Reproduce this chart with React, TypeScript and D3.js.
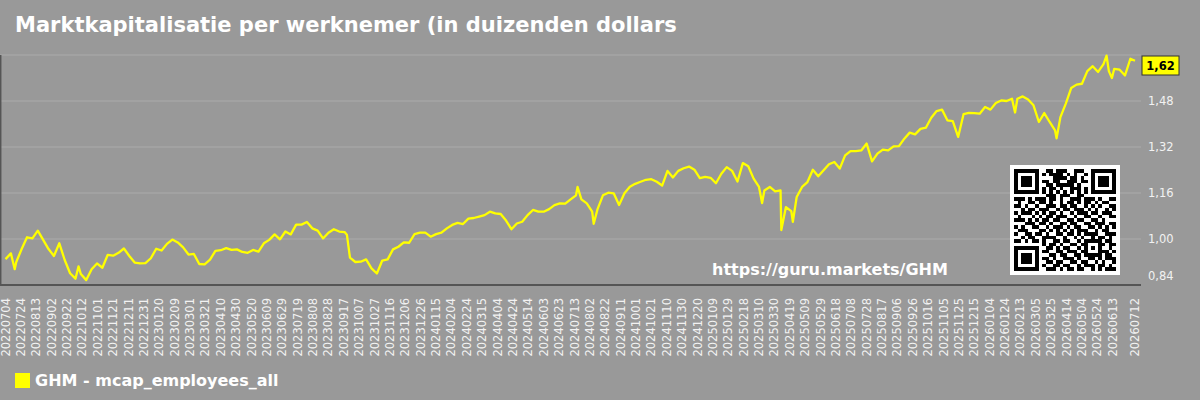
import React from "react";
import * as d3 from "d3";

const TITLE = "Marktkapitalisatie per werknemer (in duizenden dollars";
const SERIES_NAME = "GHM - mcap_employees_all";
const URL_TEXT = "https://guru.markets/GHM";
const START_DATE = "20220704";
const END_DATE = "20260712";
const STEP_DAYS = 7;

// weekly readings (every 7 days from START_DATE)
const weeklyValues = [
  0.930, 0.950, 0.920, 0.965, 1.006, 1.002, 1.029, 0.997, 0.965, 0.941,
  0.985, 0.927, 0.881, 0.862, 0.878, 0.857, 0.895, 0.915, 0.900, 0.945,
  0.942, 0.952, 0.967, 0.941, 0.918, 0.915, 0.916, 0.933, 0.966, 0.960,
  0.983, 0.998, 0.988, 0.971, 0.946, 0.948, 0.913, 0.912, 0.928, 0.959,
  0.961, 0.968, 0.962, 0.964, 0.955, 0.952, 0.962, 0.956, 0.985, 0.997,
  1.016, 0.999, 1.026, 1.016, 1.050, 1.050, 1.059, 1.037, 1.029, 1.002,
  1.022, 1.034, 1.026, 1.024, 0.935, 0.920, 0.921, 0.929, 0.898, 0.880,
  0.925, 0.929, 0.964, 0.973, 0.988, 0.987, 1.017, 1.022, 1.022, 1.008,
  1.017, 1.022, 1.037, 1.049, 1.056, 1.052, 1.071, 1.073, 1.078, 1.083,
  1.095, 1.089, 1.087, 1.064, 1.034, 1.054, 1.060, 1.083, 1.101, 1.095,
  1.095, 1.104, 1.118, 1.124, 1.123, 1.138, 1.152, 1.138, 1.124, 1.095,
  1.104, 1.152, 1.161, 1.159, 1.118, 1.159, 1.182, 1.192, 1.199, 1.206,
  1.208, 1.199, 1.186, 1.237, 1.214, 1.237, 1.246, 1.252, 1.241, 1.212,
  1.216, 1.213, 1.194, 1.227, 1.250, 1.237, 1.200, 1.264, 1.253, 1.210,
  1.181, 1.169, 1.181, 1.166, 1.169, 1.111, 1.097, 1.146, 1.181, 1.198,
  1.241, 1.218, 1.239, 1.260, 1.268, 1.245, 1.291, 1.306, 1.306, 1.308,
  1.332, 1.270, 1.297, 1.311, 1.308, 1.322, 1.323, 1.349, 1.370, 1.364,
  1.383, 1.387, 1.422, 1.445, 1.450, 1.413, 1.410, 1.355, 1.434, 1.439,
  1.438, 1.436, 1.459, 1.450, 1.473, 1.482, 1.480, 1.488, 1.488, 1.496,
  1.485, 1.465, 1.407, 1.438, 1.407, 1.378, 1.424, 1.471, 1.525, 1.537,
  1.540, 1.584, 1.601, 1.581, 1.608, 1.584, 1.592, 1.589, 1.569, 1.627,
];

// extra readings at sharp spikes: [day offset from START_DATE, value]
const spikeDays = [12, 95, 444, 744, 765, 984, 1009, 1024, 1313, 1367, 1432, 1439];
const spikeValues = [0.895, 0.905, 1.015, 1.181, 1.053, 1.125, 1.031, 1.06, 1.44, 1.35, 1.638, 1.56];

const lastValue = 1.62;

const xTickLabels = [
  "20220704", "20220724", "20220813", "20220902", "20220922", "20221012", "20221101", "20221121", "20221211", "20221231",
  "20230120", "20230209", "20230301", "20230321", "20230410", "20230430", "20230520", "20230609", "20230629", "20230719",
  "20230808", "20230828", "20230917", "20231007", "20231027", "20231116", "20231206", "20231226",
  "20240115", "20240204", "20240224", "20240315", "20240404", "20240424", "20240514", "20240603", "20240623", "20240713",
  "20240802", "20240822", "20240911", "20241001", "20241021", "20241110", "20241130", "20241220",
  "20250109", "20250129", "20250218", "20250310", "20250330", "20250419", "20250509", "20250529", "20250618", "20250708",
  "20250728", "20250817", "20250906", "20250926", "20251016", "20251105", "20251125", "20251215",
  "20260104", "20260124", "20260213", "20260305", "20260325", "20260414", "20260504", "20260524", "20260613", "20260712",
];

const yGridTicks = [1.0, 1.16, 1.32, 1.48, 1.64];
const yLabelTicks = [0.84, 1.0, 1.16, 1.32, 1.48];
const Y_MIN = 0.84;
const Y_MAX = 1.64;

const QR_ROWS = [
  "1111111 0 0110111001110 0 1111111",
  "1000001 0 1011110101001 0 1000001",
  "1011101 0 0001111011010 0 1011101",
  "1011101 0 1101100111011 0 1011101",
  "1011101 0 0110111110100 0 1011101",
  "1000001 0 1011010011101 0 1000001",
  "1111111 0 1010101010101 0 1111111",
  "00000000 0111011100110 00000000",
  "111010111 011010011101 11010011",
  "010011 0 1101001011010110101100",
  "110100 1 0011101101100101010011",
  "001011 0 1110010110111010100101",
  "101110 1 0101101001011101101110",
  "010001 0 1011011100100110010011",
  "111010 1 0110110011011001101000",
  "000111 0 1101001101100110111011",
  "101001 1 0010111010110011010101",
  "011100 0 1101010101011100101100",
  "100110 1 1010011011010111100111",
  "001011 0 0111100100101001011010",
  "110101 1 0100110110010 11111 0110",
  "00000000 101101001101 10001 1011",
  "1111111 0 011010110010 10101 0010",
  "1000001 0 110011011101 10001 1101",
  "1011101 0 001101100110 11111 0110",
  "1011101 0 110100111010011010111",
  "1011101 0 011011001101100101001",
  "1000001 0 100110110010111011010",
  "1111111 0 011101011011001010111",
].map((r) => r.replace(/ /g, ""));

const FONT = "'DejaVu Sans', sans-serif";

export default function App() {
  const W = 1200;
  const H = 400;
  const plotLeft = 0;
  const plotRight = 1141;
  const plotTop = 55;
  const plotBottom = 285;

  const parse = d3.utcParse("%Y%m%d");
  const start = parse(START_DATE) as Date;
  const end = parse(END_DATE) as Date;

  const x = d3.scaleUtc().domain([start, end]).range([5.5, 1135]);
  const y = d3.scaleLinear().domain([Y_MIN, Y_MAX]).range([plotBottom, plotTop]);

  const pts: { d: Date; v: number }[] = [];
  weeklyValues.forEach((v, i) => pts.push({ d: d3.utcDay.offset(start, i * STEP_DAYS), v }));
  spikeDays.forEach((day, i) => pts.push({ d: d3.utcDay.offset(start, day), v: spikeValues[i] }));
  pts.push({ d: end, v: lastValue });
  pts.sort((a, b) => +a.d - +b.d);

  const line = d3
    .line<{ d: Date; v: number }>()
    .x((p) => x(p.d))
    .y((p) => y(p.v));

  const fmt = (v: number) => d3.format(".2f")(v).replace(".", ",");

  const boxCenter = Math.max(y(lastValue), 65.5);
  const mod = 3.5;
  const qrX = 1010;
  const qrY = 165;
  const qrOff = (110 - QR_ROWS.length * mod) / 2;

  return (
    <div style={{ position: "absolute", left: 0, top: 0 }}>
      <svg width={W} height={H} style={{ display: "block" }}>
        <rect x={0} y={0} width={W} height={H} fill="#999999" />
        <text x={15} y={32} fill="#ffffff" fontFamily={FONT} fontWeight="bold" fontSize={21}>
          {TITLE}
        </text>

        {yGridTicks.map((t) => (
          <line key={t} x1={plotLeft} x2={plotRight} y1={y(t)} y2={y(t)} stroke="#a6a6a6" strokeWidth={1.5} />
        ))}

        <path d={line(pts) || ""} fill="none" stroke="#ffff00" strokeWidth={2.3} strokeLinejoin="round" />

        <line x1={0.7} x2={0.7} y1={plotTop} y2={plotBottom} stroke="#555555" strokeWidth={1.5} />
        <line x1={plotLeft} x2={plotRight} y1={plotBottom} y2={plotBottom} stroke="#555555" strokeWidth={2} />

        {yLabelTicks.map((t) => (
          <text
            key={t}
            x={1148}
            y={t === Y_MIN ? y(t) - 9 : y(t)}
            dy="0.35em"
            fill="#f2f2f2"
            fontFamily={FONT}
            fontSize={11.5}
          >
            {fmt(t)}
          </text>
        ))}

        <rect x={1142} y={boxCenter - 9.5} width={37} height={19} fill="#ffff00" stroke="#333333" strokeWidth={1} />
        <text
          x={1160.5}
          y={boxCenter}
          dy="0.36em"
          textAnchor="middle"
          fill="#000000"
          fontFamily={FONT}
          fontWeight="bold"
          fontSize={11.5}
        >
          {fmt(lastValue)}
        </text>

        {xTickLabels.map((s) => {
          const xp = x(parse(s) as Date);
          return (
            <text
              key={s}
              transform={`translate(${xp},298) rotate(-90)`}
              dy="0.35em"
              textAnchor="end"
              fill="#f2f2f2"
              fontFamily={FONT}
              fontSize={11.5}
            >
              {s}
            </text>
          );
        })}

        <rect x={qrX} y={qrY} width={110} height={110} fill="#ffffff" />
        <g shapeRendering="crispEdges">
          {QR_ROWS.flatMap((row, r) =>
            row.split("").map((c, ci) =>
              c === "1" ? (
                <rect
                  key={`${r}-${ci}`}
                  x={qrX + qrOff + ci * mod}
                  y={qrY + qrOff + r * mod}
                  width={mod + 0.1}
                  height={mod + 0.1}
                  fill="#000000"
                />
              ) : null
            )
          )}
        </g>

        <text x={712} y={275} fill="#ffffff" fontFamily={FONT} fontWeight="bold" fontSize={16}>
          {URL_TEXT}
        </text>

        <rect x={15} y={373} width={15} height={15} fill="#ffff00" />
        <text x={35} y={386} fill="#ffffff" fontFamily={FONT} fontWeight="bold" fontSize={16}>
          {SERIES_NAME}
        </text>
      </svg>
    </div>
  );
}
